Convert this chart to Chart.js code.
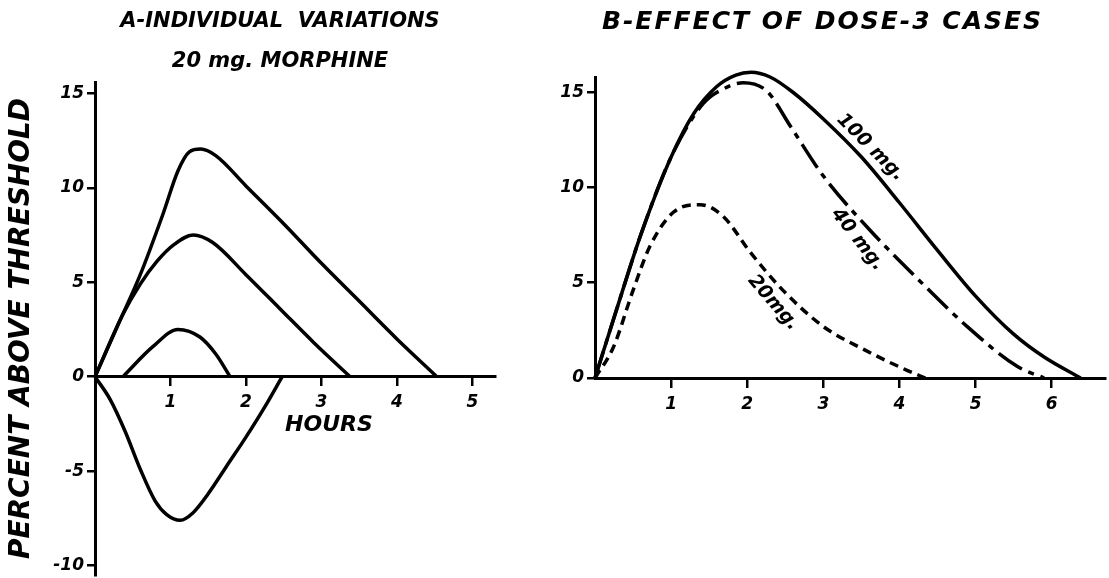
<!DOCTYPE html>
<html>
<head>
<meta charset="utf-8">
<script src="https://cdn.jsdelivr.net/npm/chart.js@4/dist/chart.umd.min.js"></script>
<style>
  html, body { margin: 0; padding: 0; background: #fff; }
  body { width: 1109px; height: 578px; position: relative; overflow: hidden; }
  .panel { position: absolute; top: 0; height: 578px; }
  #panelA { left: 0; width: 560px; }
  #panelB { left: 540px; width: 569px; }
</style>
</head>
<body>
<div class="panel" id="panelA"><canvas id="chartA"></canvas></div>
<div class="panel" id="panelB"><canvas id="chartB"></canvas></div>
<script>
// A - individual variations, 20 mg morphine (hours / percent above threshold)
const hoursA1 = [0, 0.3, 0.6, 0.9, 1.1, 1.25, 1.4, 1.6, 2.0, 2.5, 3.0, 3.5, 4.0, 4.53]
const percentA1 = [0, 2.7, 5.4, 8.6, 10.9, 11.9, 12.05, 11.7, 10.1, 8.1, 6.0, 4.0, 2.0, 0]
const hoursA2 = [0, 0.37, 0.6, 0.82, 1.05, 1.3, 1.56, 2.0, 2.45, 2.9, 3.38]
const percentA2 = [0, 3.3, 4.9, 6.1, 7.0, 7.5, 7.1, 5.4, 3.6, 1.8, 0]
const hoursA3 = [0.37, 0.77, 1.1, 1.39, 1.6, 1.79]
const percentA3 = [0, 1.6, 2.5, 2.1, 1.2, 0]
const hoursA4 = [0, 0.2, 0.4, 0.6, 0.8, 0.95, 1.13, 1.3, 1.5, 1.75, 2.0, 2.25, 2.48]
const percentA4 = [0, -1.2, -2.9, -4.9, -6.6, -7.3, -7.6, -7.2, -6.2, -4.7, -3.2, -1.6, 0]

// B - effect of dose, 3 cases
const hours100 = [0, 0.3, 0.6, 1.0, 1.3, 1.6, 1.85, 2.05, 2.3, 2.6, 3.0, 3.5, 4.0, 4.5, 5.0, 5.5, 5.9, 6.38]
const percent100 = [0, 3.8, 7.5, 11.6, 13.9, 15.3, 15.9, 16.05, 15.8, 15.0, 13.6, 11.6, 9.2, 6.7, 4.3, 2.3, 1.1, 0]
const hours40 = [0, 0.3, 0.6, 1.0, 1.42, 1.7, 1.95, 2.26, 2.57, 3.0, 3.58, 4.24, 4.89, 5.55, 5.9]
const percent40 = [0, 3.8, 7.5, 11.6, 14.4, 15.2, 15.5, 15.05, 13.2, 10.6, 7.9, 5.2, 2.7, 0.6, 0]
const hours20 = [0, 0.24, 0.5, 0.72, 1.03, 1.38, 1.68, 2.04, 2.47, 3.0, 3.53, 4.1, 4.34]
const percent20 = [0, 1.6, 4.6, 6.9, 8.7, 9.1, 8.5, 6.6, 4.6, 2.7, 1.5, 0.4, 0]

// tick labels
const xTicksA = [1, 2, 3, 4, 5]
const yTicksA = [-10, -5, 0, 5, 10, 15]
const xTicksB = [1, 2, 3, 4, 5, 6]
const yTicksB = [0, 5, 10, 15]

const FONT = "'DejaVu Sans', 'Liberation Sans', sans-serif"
Chart.defaults.font.family = FONT
Chart.defaults.font.style = 'italic'
Chart.defaults.font.weight = 'bold'
Chart.defaults.color = '#000'

const pts = (xs, ys) => xs.map((x, i) => ({ x: x, y: ys[i] }))

const line = (data, dash) => ({
    data: data,
    borderColor: '#000',
    borderWidth: 3.5,
    borderDash: dash || [],
    pointRadius: 0,
    fill: false,
    clip: false,
    cubicInterpolationMode: 'monotone'
})

// text written along the curves, anchored in data units
const textPlugin = (items, spacing) => ({
    id: 'curveText',
    beforeDraw(chart) {
        // hand lettering of the title is spaced out (tick labels draw later, at z 1)
        chart.ctx.letterSpacing = spacing
    },
    beforeDatasetsDraw(chart) {
        chart.ctx.letterSpacing = '0px'
    },
    afterDatasetsDraw(chart) {
        const ctx = chart.ctx
        const sx = chart.scales.x, sy = chart.scales.y
        ctx.save()
        ctx.fillStyle = '#000'
        ctx.textAlign = 'center'
        ctx.textBaseline = 'middle'
        items.forEach(it => {
            ctx.save()
            ctx.translate(sx.getPixelForValue(it.x), sy.getPixelForValue(it.y))
            ctx.rotate(it.angle * Math.PI / 180)
            ctx.font = 'italic bold ' + it.size + 'px ' + FONT
            ctx.fillText(it.text, 0, 0)
            ctx.restore()
        })
        ctx.restore()
    }
})

const axisGrid = {
    drawOnChartArea: false,
    drawTicks: true,
    tickLength: 8,
    color: '#000',
    lineWidth: 2.5
}

function makeChart(id, cfg) {
    return new Chart(document.getElementById(id), {
        type: 'line',
        data: { datasets: cfg.datasets },
        plugins: [textPlugin(cfg.texts, cfg.titleSpacing)],
        options: {
            animation: false,
            responsive: true,
            maintainAspectRatio: false,
            layout: { padding: cfg.padding },
            plugins: {
                legend: { display: false },
                tooltip: { enabled: false },
                title: {
                    display: true,
                    text: cfg.title,
                    color: '#000',
                    font: { size: cfg.titleSize, style: 'italic', weight: 'bold', lineHeight: 40 / cfg.titleSize },
                    padding: cfg.titlePadding
                }
            },
            scales: {
                x: {
                    type: 'linear',
                    position: { y: 0 },
                    min: 0,
                    max: cfg.xMax,
                    afterFit: s => { s.height = 0; s.paddingLeft = 0; s.paddingRight = cfg.rightGap },
                    afterBuildTicks: s => { s.ticks = cfg.xTicks.map(v => ({ value: v })) },
                    grid: axisGrid,
                    border: { color: '#000', width: 3 },
                    ticks: { z: 1, padding: 8, font: { size: 17 }, autoSkip: false, maxRotation: 0 }
                },
                y: {
                    type: 'linear',
                    min: cfg.yMin,
                    max: cfg.yMax,
                    afterFit: s => { s.width = cfg.yWidth; s.paddingTop = 0; s.paddingBottom = 0 },
                    afterBuildTicks: s => { s.ticks = cfg.yTicks.map(v => ({ value: v })) },
                    grid: axisGrid,
                    border: { color: '#000', width: 3 },
                    ticks: { z: 1, padding: 3, font: { size: 17 } },
                    title: cfg.yTitle
                }
            }
        }
    })
}

makeChart('chartA', {
    title: ['A-INDIVIDUAL  VARIATIONS', '20 mg. MORPHINE'],
    titleSize: 21,
    titleSpacing: '0px',
    titlePadding: { top: 2, bottom: 0 },
    padding: { left: 0, right: 0, top: 0, bottom: 3 },
    rightGap: 65,
    xMax: 5.3, yMin: -10.5, yMax: 15.6,
    xTicks: xTicksA, yTicks: yTicksA,
    yWidth: 95,
    yTitle: {
        display: true,
        text: 'PERCENT ABOVE THRESHOLD',
        color: '#000',
        font: { size: 28, style: 'italic', weight: 'bold', lineHeight: 1.2 },
        padding: { top: 5, bottom: 0 }
    },
    datasets: [
        line(pts(hoursA1, percentA1)),
        line(pts(hoursA2, percentA2)),
        line(pts(hoursA3, percentA3)),
        line(pts(hoursA4, percentA4))
    ],
    texts: [{ text: 'HOURS', x: 3.1, y: -2.55, angle: 0, size: 22 }]
})

makeChart('chartB', {
    title: ['B-EFFECT OF DOSE-3 CASES'],
    titleSize: 25,
    titleSpacing: '2px',
    titlePadding: { top: 2, bottom: 35 },
    padding: { left: 0, right: 4, top: 0, bottom: 200 },
    rightGap: 0,
    xMax: 6.7, yMin: 0, yMax: 15.8,
    xTicks: xTicksB, yTicks: yTicksB,
    yWidth: 55,
    yTitle: { display: false },
    datasets: [
        line(pts(hours100, percent100)),
        line(pts(hours40, percent40), [28, 7, 6, 7]),
        line(pts(hours20, percent20), [9, 6])
    ],
    texts: [
        { text: '100 mg.', x: 3.62, y: 12.1, angle: 45, size: 19 },
        { text: '40 mg.', x: 3.45, y: 7.26, angle: 52, size: 19 },
        { text: '20mg.', x: 2.34, y: 3.95, angle: 49, size: 19 }
    ]
})
</script>
</body>
</html>
